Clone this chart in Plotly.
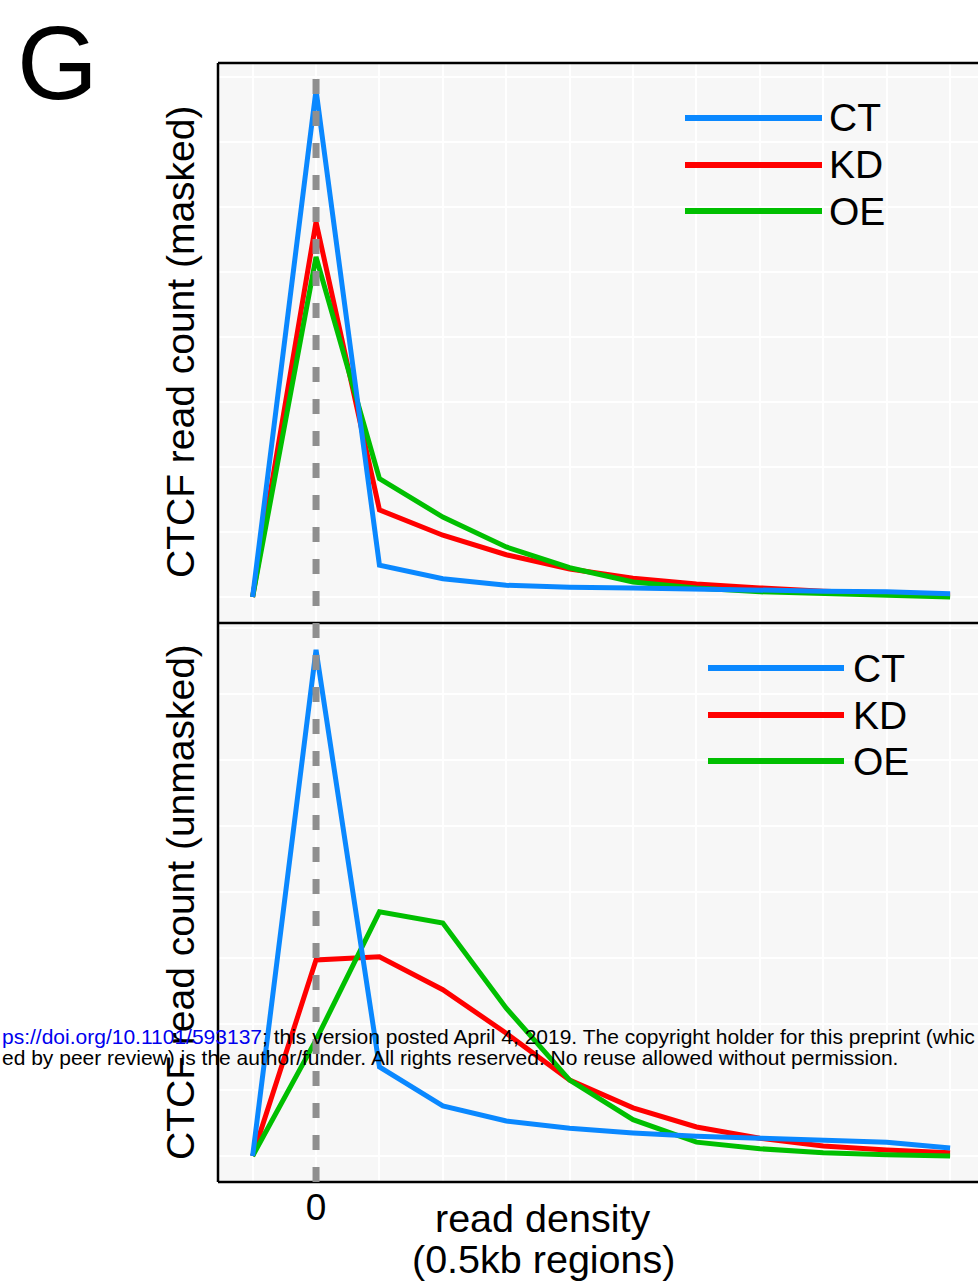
import plotly.graph_objects as go

# ---------------- data ----------------
read_density = [-1, 0, 1, 2, 3, 4, 5, 6, 7, 8, 9, 10]
series_names = ["CT", "KD", "OE"]
series_colors = ["#0a88ff", "#ff0000", "#00bf00"]

ct_masked = [0, 7.80, 0.49, 0.28, 0.18, 0.15, 0.14, 0.12, 0.11, 0.09, 0.08, 0.05]
kd_masked = [0, 5.77, 1.34, 0.95, 0.65, 0.43, 0.29, 0.20, 0.14, 0.09, 0.06, 0.03]
oe_masked = [0, 5.23, 1.82, 1.23, 0.77, 0.45, 0.23, 0.14, 0.08, 0.05, 0.03, 0.00]

ct_unmasked = [0, 7.67, 1.35, 0.76, 0.53, 0.42, 0.35, 0.30, 0.27, 0.24, 0.21, 0.12]
kd_unmasked = [0, 2.97, 3.02, 2.52, 1.86, 1.15, 0.73, 0.44, 0.27, 0.15, 0.09, 0.05]
oe_unmasked = [0, 1.76, 3.70, 3.53, 2.24, 1.15, 0.55, 0.21, 0.11, 0.05, 0.02, 0.00]

x_tick_vals = [0]
x_tick_text = ["0"]

# ---------------- geometry helpers ----------------
W, H = 978, 1287
ML, MR, MT, MB = 218, 0, 63, 105
PW = W - ML - MR
PH = H - MT - MB


def px_x(px):
    return (px - ML) / PW


def px_y(py):
    return (H - MB - py) / PH


FONT = "Liberation Sans, Arial, Helvetica, sans-serif"
split = px_y(623)

fig = go.Figure()

masked = {"CT": ct_masked, "KD": kd_masked, "OE": oe_masked}
unmasked = {"CT": ct_unmasked, "KD": kd_unmasked, "OE": oe_unmasked}
color_of = dict(zip(series_names, series_colors))
draw_order = ["KD", "OE", "CT"]

for name in draw_order:
    fig.add_trace(go.Scatter(x=read_density, y=masked[name], mode="lines", name=name,
                             line=dict(color=color_of[name], width=5), xaxis="x", yaxis="y",
                             showlegend=False))
for name in draw_order:
    fig.add_trace(go.Scatter(x=read_density, y=unmasked[name], mode="lines", name=name,
                             line=dict(color=color_of[name], width=5), xaxis="x", yaxis="y2",
                             showlegend=False))

axis_common = dict(showticklabels=False, ticks="", gridcolor="white", gridwidth=1.5,
                   zeroline=False, showline=False, dtick=1, tick0=0, anchor="x")

fig.update_layout(
    width=W, height=H,
    margin=dict(l=ML, r=MR, t=MT, b=MB, pad=0),
    paper_bgcolor="white",
    plot_bgcolor="#f7f7f7",
    font=dict(family=FONT, color="black"),
    xaxis=dict(domain=[0, 1], range=[-1.546, 10.44], anchor="y2",
               tickmode="array", tickvals=x_tick_vals, ticktext=x_tick_text,
               tickfont=dict(size=37, family=FONT, color="black"), ticks="",
               ticklabelstandoff=0,
               showgrid=False, zeroline=False, showline=False,
               minor=dict(dtick=1, tick0=0, showgrid=True, gridcolor="white", gridwidth=1.5)),
    yaxis=dict(domain=[split, 1], range=[-0.4, 8.215], **axis_common),
    yaxis2=dict(domain=[0, split], range=[-0.394, 8.076], **axis_common),
)

shapes = []
# frame lines
shapes.append(dict(type="line", xref="paper", yref="paper", x0=0, x1=0, y0=0, y1=1,
                   line=dict(color="black", width=2.5)))
for py in (63, 623, 1182):
    shapes.append(dict(type="line", xref="paper", yref="paper", x0=0, x1=1.01,
                       y0=px_y(py), y1=px_y(py), line=dict(color="black", width=2.5)))
# vertical dashed line at 0
shapes.append(dict(type="line", xref="x", yref="paper", x0=0, x1=0, y0=0, y1=px_y(72),
                   line=dict(color="#8f8f8f", width=7, dash="15px,17px")))

annotations = []
# manual legends
for (lx0, lx1, tx, ys) in [(685, 822, 827, (118, 165, 211)), (708, 844, 851, (668, 715, 761))]:
    for name, yy in zip(series_names, ys):
        shapes.append(dict(type="line", xref="paper", yref="paper", x0=px_x(lx0), x1=px_x(lx1),
                           y0=px_y(yy), y1=px_y(yy), line=dict(color=color_of[name], width=6)))
        annotations.append(dict(text=name, xref="paper", yref="paper", x=px_x(tx), y=px_y(yy),
                                xanchor="left", yanchor="middle", showarrow=False,
                                font=dict(size=39, family=FONT, color="black")))

# panel letter
annotations.append(dict(text="G", xref="paper", yref="paper", x=px_x(57), y=px_y(63),
                        xanchor="center", yanchor="middle", showarrow=False,
                        font=dict(size=104, family=FONT, color="black")))
# y titles
annotations.append(dict(text="CTCF read count (masked)", xref="paper", yref="paper",
                        x=px_x(180), y=px_y(342), textangle=-90, showarrow=False,
                        xanchor="center", yanchor="middle",
                        font=dict(size=39, family=FONT, color="black")))
annotations.append(dict(text="CTCF read count (unmasked)", xref="paper", yref="paper",
                        x=px_x(180), y=px_y(902), textangle=-90, showarrow=False,
                        xanchor="center", yanchor="middle",
                        font=dict(size=39, family=FONT, color="black")))
# x title
annotations.append(dict(text="read density", xref="paper", yref="paper",
                        x=px_x(542), y=px_y(1218), showarrow=False,
                        xanchor="center", yanchor="middle",
                        font=dict(size=39.5, family=FONT, color="black")))
annotations.append(dict(text="(0.5kb regions)", xref="paper", yref="paper",
                        x=px_x(543), y=px_y(1259), showarrow=False,
                        xanchor="center", yanchor="middle",
                        font=dict(size=39.5, family=FONT, color="black")))
# preprint overlay text
OV = "Liberation Sans Narrow, Liberation Sans, Arial, sans-serif"
annotations.append(dict(text='<span style="color:#0000ee">ps://doi.org/10.1101/593137</span>; this version posted April 4, 2019. The copyright holder for this preprint (whic',
                        xref="paper", yref="paper", x=px_x(0), y=px_y(1036), showarrow=False,
                        xanchor="left", yanchor="middle",
                        font=dict(size=21, family=OV, color="black")))
annotations.append(dict(text="ed by peer review) is the author/funder. All rights reserved. No reuse allowed without permission.",
                        xref="paper", yref="paper", x=px_x(0), y=px_y(1057), showarrow=False,
                        xanchor="left", yanchor="middle",
                        font=dict(size=21, family=OV, color="black")))

fig.update_layout(shapes=shapes, annotations=annotations)
fig.write_html("out.html")
